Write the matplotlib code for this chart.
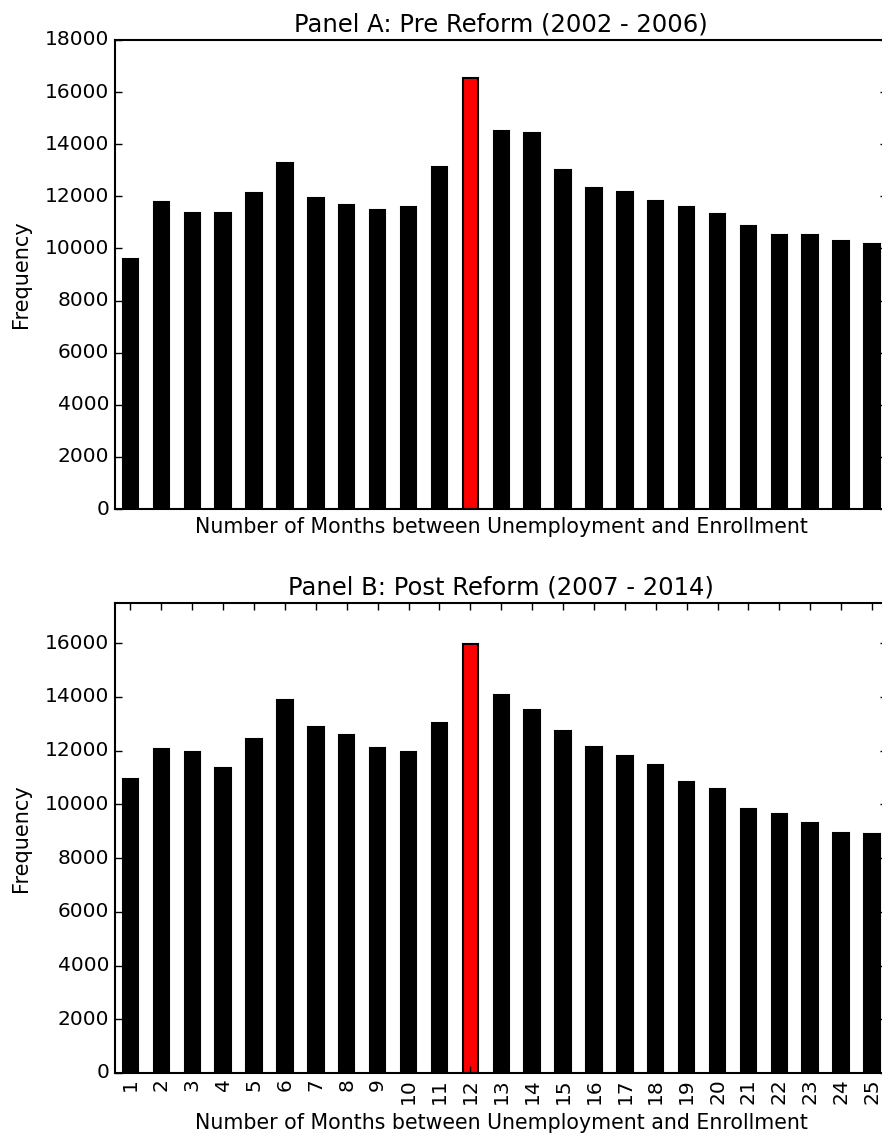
import matplotlib
matplotlib.use("Agg")
import matplotlib.pyplot as plt
import numpy as np

plt.style.use("classic")
plt.rcParams["font.family"] = ["DejaVu Sans"]
plt.rcParams["axes.linewidth"] = 1.5

months = [str(m) for m in range(1, 26)]

pre_reform = [9600, 11780, 11360, 11370, 12120, 13280, 11930, 11670, 11480, 11590,
              13120, 16530, 14510, 14430, 13010, 12320, 12160, 11820, 11590, 11320,
              10860, 10520, 10510, 10290, 10170]

post_reform = [10960, 12050, 11940, 11340, 12420, 13880, 12870, 12570, 12110, 11960,
               13020, 15970, 14090, 13510, 12750, 12120, 11800, 11480, 10820, 10570,
               9830, 9660, 9310, 8950, 8880]

highlight = 12
xlabel = "Number of Months between Unemployment and Enrollment"

fig = plt.figure(figsize=(8.82, 11.36), dpi=100, facecolor="white")

panels = [
    ("Panel A: Pre Reform (2002 - 2006)", pre_reform, 18000, [0.1304, 0.5519, 0.8758, 0.4129], False),
    ("Panel B: Post Reform (2007 - 2014)", post_reform, 17500, [0.1304, 0.0555, 0.8758, 0.4137], True),
]

for title, values, ymax, rect, show_ticks in panels:
    ax = fig.add_axes(rect)
    x = np.arange(len(values))
    colors = ["red" if int(m) == highlight else "black" for m in months]
    ax.bar(x, values, width=0.5, color=colors, edgecolor="black",
           linewidth=1.5, align="center")
    ax.set_xlim(-0.5, len(values) - 0.5)
    ax.set_ylim(0, ymax)
    ax.set_yticks(np.arange(0, ymax + 1, 2000))
    ax.set_title(title, fontsize=17.5, y=1.003)
    ax.set_ylabel("Frequency", fontsize=15, labelpad=10)
    ax.set_xlabel(xlabel, fontsize=14.8, labelpad=6)
    ax.tick_params(axis="y", labelsize=14.5)
    ax.tick_params(length=5, width=1)
    if show_ticks:
        ax.set_xticks(x)
        ax.set_xticklabels(months, rotation=90, fontsize=14.5)
    else:
        ax.set_xticks([])

fig.savefig("out.png", dpi=100, facecolor="white")
